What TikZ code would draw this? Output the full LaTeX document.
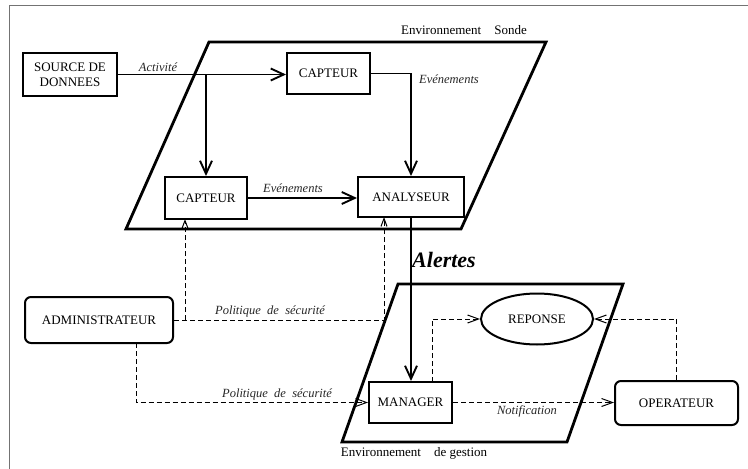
\documentclass[tikz,border=0pt]{standalone}
\usepackage{fontspec}
\setmainfont{Liberation Serif}
\usetikzlibrary{arrows.meta,shapes.geometric}
\tikzset{
  every node/.style={font=\fontsize{13}{15}\selectfont},
  box/.style={draw, line width=2pt, inner sep=0pt, align=center},
  rbox/.style={box, rounded corners=6pt},
  env/.style={draw, line width=2.8pt, line join=miter},
  arr/.style={line width=1.9pt, -{Straight Barb[length=13pt,width=12pt,line width=1.9pt]}},
  darr/.style={line width=1pt, dash pattern=on 5pt off 3pt, -{Straight Barb[length=11pt,width=8pt,line width=1pt]}},
  sdarr/.style={line width=1pt, dash pattern=on 5pt off 3pt, -{Straight Barb[length=8pt,width=6pt,line width=1pt]}},
  lbl/.style={font=\fontsize{12.5}{14}\selectfont\itshape, text=black!85},
}
\begin{document}
\begin{tikzpicture}[x=1pt,y=-1pt]
\useasboundingbox (0,0) rectangle (748,469);
% frame
\draw[line width=1.6pt, black!55] (9.5,469) -- (9.5,5.5) -- (748,5.5);
% environments
\draw[env] (209,42) -- (546,42) -- (461,229) -- (126,229) -- cycle;
\draw[env] (398,284) -- (623,284) -- (567,442) -- (342,442) -- cycle;
\node at (464,30) {Environnement\quad Sonde};
\node at (414,453) {Environnement\quad de gestion};

% nodes
\node[box, minimum width=94pt, minimum height=43pt, fill=white] (src) at (70,74.5) {SOURCE DE\\DONNEES};
\node[box, minimum width=83pt, minimum height=41pt, fill=white] (cap1) at (328.5,73.5) {CAPTEUR};
\node[box, minimum width=82pt, minimum height=42pt, fill=white] (cap2) at (206,198) {CAPTEUR};
\node[box, minimum width=106pt, minimum height=40pt, fill=white] (ana) at (411,197) {ANALYSEUR};
\node[rbox, minimum width=148pt, minimum height=46pt] (admin) at (99,320) {ADMINISTRATEUR};
\node[box, minimum width=83pt, minimum height=41pt, fill=white] (mgr) at (410.5,402.5) {MANAGER};
\node[draw, ellipse, line width=2pt, inner sep=0pt, minimum width=112pt, minimum height=51pt] (rep) at (537,319) {REPONSE};
\node[rbox, minimum width=123pt, minimum height=44pt] (op) at (676.5,403) {OPERATEUR};

% coordinates for off-centre connector ends
\coordinate (c2in) at (185,219);
\coordinate (anin) at (384,217);
\coordinate (adb) at (136,343);
\coordinate (mtop) at (432,382);

% solid connectors
\draw[arr] (src.east) -- (cap1.west |- src.east);
\draw[arr] (cap2.north |- src.east) -- (cap2.north);
\draw[arr] (cap1.east) -| (ana.north);
\draw[arr] (cap2.east) -- (ana.west |- cap2.east);
\draw[arr] (ana.south) -- (ana.south |- mgr.north);

% dashed connectors
\draw[sdarr] (admin.east) -| (anin);
\draw[sdarr] (admin.east -| c2in) -- (c2in);
\draw[darr] (adb) |- (mgr.west);
\draw[darr] (mtop) |- (rep.west);
\draw[darr] (op.north) |- (rep.east);
\draw[darr] (mgr.east) -- (op.west |- mgr.east);

% labels
\node[lbl] at (158,67) {Activité};
\node[lbl] at (449,79) {Evénements};
\node[lbl] at (293,188) {Evénements};
\node[lbl] at (270,311) {Politique\ \ de\ \ sécurité};
\node[lbl] at (277,394) {Politique\ \ de\ \ sécurité};
\node[lbl] at (527,411) {Notification};
\node[font=\fontsize{22}{24}\selectfont\bfseries\itshape] at (444,260) {Alertes};
\end{tikzpicture}
\end{document}
